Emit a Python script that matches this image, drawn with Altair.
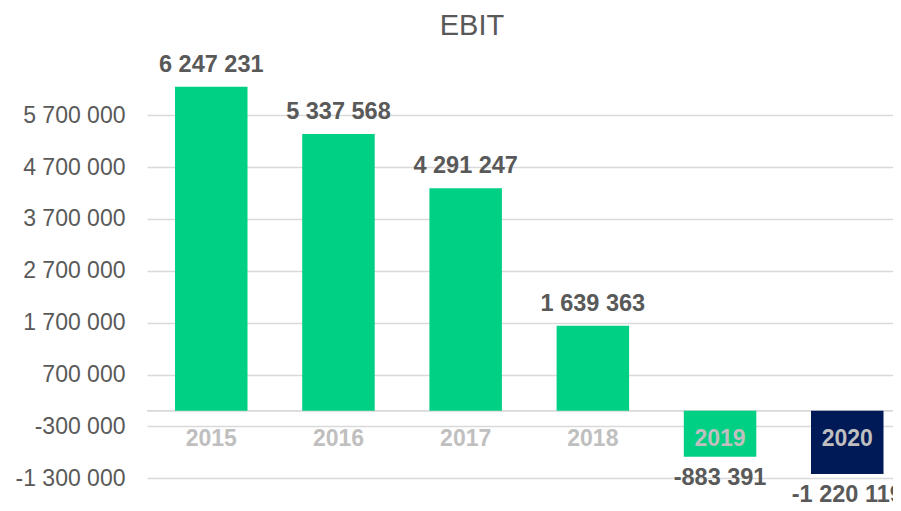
import altair as alt
import pandas as pd

years = ["2015", "2016", "2017", "2018", "2019", "2020"]
ebit = [6247231, 5337568, 4291247, 1639363, -883391, -1220119]
y_ticks = [-1300000, -300000, 700000, 1700000, 2700000, 3700000, 4700000, 5700000]

df = pd.DataFrame({"year": years, "ebit": ebit})

GREEN = "#00D084"
NAVY = "#001A57"
DARK = "#595959"
FONT = "Liberation Sans"

fmt = "(datum.{f} < 0 ? '-' : '') + replace(format(abs(datum.{f}), ','), regexp(',', 'g'), ' ')"

x_enc = alt.X(
    "year:N",
    sort=years,
    axis=None,
    scale=alt.Scale(paddingInner=0.43, paddingOuter=0.1474, align=0.747),
)
y_scale = alt.Scale(domain=[-1700000, 6900000], nice=False, zero=False)

base = alt.Chart(df)

bars = base.mark_bar().encode(
    x=x_enc,
    y=alt.Y(
        "ebit:Q",
        scale=y_scale,
        title=None,
        axis=alt.Axis(
            values=y_ticks,
            labelExpr=fmt.format(f="value"),
            grid=True,
            gridColor="#D9D9D9",
            gridWidth=1.3,
            ticks=False,
            domain=False,
            labelColor=DARK,
            labelFontSize=23,
            labelFont=FONT,
            labelPadding=22,
        ),
    ),
    color=alt.condition(alt.datum.year == "2020", alt.value(NAVY), alt.value(GREEN)),
)

zero = alt.Chart(pd.DataFrame({"z": [0]})).mark_rule(color="#D9D9D9", strokeWidth=1.6).encode(
    y=alt.Y("z:Q", scale=y_scale)
)

cats = base.mark_text(
    dy=28, fontSize=23, fontWeight="bold", color="#BFBFBF", font=FONT
).encode(x=x_enc, y=alt.datum(0), text="year:N")

pos_labels = base.transform_filter(alt.datum.ebit >= 0).transform_calculate(
    lab=fmt.format(f="ebit")
).mark_text(dy=-22, fontSize=23.5, fontWeight="bold", color=DARK, font=FONT).encode(
    x=x_enc, y=alt.Y("ebit:Q", scale=y_scale), text="lab:N"
)

neg_labels = base.transform_filter(alt.datum.ebit < 0).transform_calculate(
    lab=fmt.format(f="ebit")
).mark_text(dy=21, fontSize=23.5, fontWeight="bold", color=DARK, font=FONT).encode(
    x=x_enc, y=alt.Y("ebit:Q", scale=y_scale), text="lab:N"
)

chart = (
    alt.layer(zero, bars, cats, pos_labels, neg_labels)
    .properties(
        width=746,
        height=446,
        padding={"left": 139, "top": 45, "right": 0, "bottom": 4},
        autosize=alt.AutoSizeParams(type="none"),
        background="white",
        title=alt.TitleParams(
            "EBIT",
            fontSize=29,
            fontWeight="normal",
            color=DARK,
            font=FONT,
            anchor="middle",
            dx=-48,
            dy=30,
            baseline="middle",
            offset=28,
        ),
    )
    .configure_view(stroke=None)
)

chart.save("out.html", embed_options={"renderer": "svg", "actions": False})
